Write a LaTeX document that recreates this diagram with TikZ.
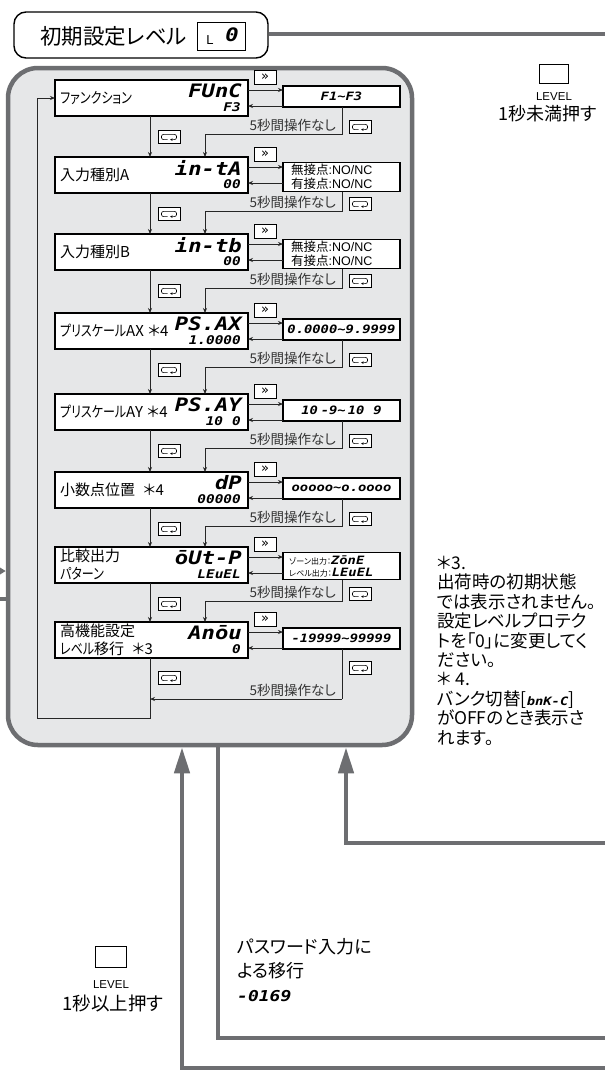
\documentclass[tikz,border=0pt]{standalone}
\usepackage{graphicx}
\usepackage{fontspec}
\setmainfont{Noto Sans CJK JP}[RawFeature=+palt]
\newfontfamily\segfont{DejaVu Sans Mono}[FakeStretch=1.2]
\newfontfamily\latinf{Liberation Sans}
\newfontfamily\dejavuf{DejaVu Sans}
\usetikzlibrary{calc,arrows.meta}
\definecolor{panelgray}{HTML}{E6E7E8}
\definecolor{linegray}{HTML}{6D6E71}
\newcommand\sevenbig{\segfont\bfseries\itshape\fontsize{18.5}{19}\selectfont}
\newcommand\sevensmall{\segfont\bfseries\itshape\fontsize{12}{13}\selectfont}
\newcommand\sevenval{\segfont\bfseries\itshape\fontsize{11.5}{12}\selectfont}
\newcommand\kn[1]{\scalebox{0.8}[1]{#1}}
\newcommand\modekey[3]{%
  \node[keybtn] (#1) at (#2,#3) {};
  \begin{scope}[shift={(#1.center)}]
    \draw[line width=0.6pt, rounded corners=2pt, -{Stealth[length=2.4pt,width=2.6pt]}]
      (-1.5,2.6) -- (-7.5,2.6) -- (-7.5,-2.6) -- (7.5,-2.6) -- (7.5,2.6) -- (1.2,2.6);
  \end{scope}}
\tikzset{
  mainbox/.style={draw=black, fill=white, minimum width=193pt, minimum height=36pt, inner sep=0pt, outer sep=0pt},
  valbox/.style={draw=black, fill=white, line width=1.7pt, minimum width=117pt, inner sep=0pt, outer sep=0pt},
  keybtn/.style={draw=black, fill=white, line width=0.7pt, minimum width=22pt, minimum height=13pt, inner sep=0pt, outer sep=0pt},
  ffbtn/.style={keybtn, minimum height=14pt, font=\dejavuf\fontsize{13}{13}\selectfont},
  conn/.style={line width=0.8pt, draw=black!85},
  arr/.style={-{Stealth[length=5pt,width=4pt]}},
  graythick/.style={line width=4.5pt, draw=linegray},
  lab/.style={font=\fontsize{15}{18}\selectfont, inner sep=0pt, anchor=west, align=left},
  note/.style={font=\fontsize{13.5}{13.5}\selectfont, text=black!80, inner sep=0pt},
  sbig/.style={font=\sevenbig, inner sep=0pt, anchor=east},
  ssmall/.style={font=\sevensmall, inner sep=0pt, anchor=east},
  sval/.style={font=\sevenval, inner sep=0pt},
  jtext/.style={inner sep=0pt, align=left},
  lvlbox/.style={draw=black, fill=white, line width=0.9pt, minimum width=29pt, minimum height=19pt, inner sep=0pt},
}
\begin{document}
\begin{tikzpicture}[x=1pt,y=-1pt]
\useasboundingbox (0,0) rectangle (605,1079);

% ---------- title ----------
\node[draw=black, line width=1.4pt, rounded corners=12pt, fill=white, minimum width=254pt, minimum height=46pt, inner sep=0pt] (T) at (141,35) {};
\node[font=\fontsize{21.5}{24}\selectfont, anchor=west, inner sep=0pt] (Tt) at (40,36) {初期設定レベル};
\node[draw=black, line width=1pt, fill=white, minimum width=48pt, minimum height=28pt, inner sep=0pt] (L0) at (221,36) {};
\node[font=\latinf\fontsize{13}{13}\selectfont, inner sep=0pt] (L0a) at (210,40) {L};
\node[font=\sevenbig, inner sep=0pt] (L0b) at (232,35) {0};
\coordinate (e0) at (605,34);
\draw[graythick] (T.east |- e0) -- (e0);

% ---------- LEVEL (top right) ----------
\node[lvlbox] (LV1) at (554,74) {};
\node[font=\latinf\fontsize{11.5}{12}\selectfont, inner sep=0pt] (LV1t) at (554,97) {LEVEL};
\node[font=\fontsize{18}{18}\selectfont, inner sep=0pt] (LV1s) at (548,114) {1秒未満押す};

% ---------- panel ----------
\node[draw=linegray, line width=4.5pt, fill=panelgray, rounded corners=30pt, minimum width=404pt, minimum height=677pt, inner sep=0pt] (P) at (210,406.5) {};

% left side lines
\coordinate (w1) at (0,571);
\draw[line width=2.2pt, draw=linegray, -{Triangle[length=7pt,width=8pt]}, color=linegray] (w1) -- (w1 -| P.west);
\coordinate (w2) at (0,599);
\draw[graythick] (w2) -- (w2 -| P.west);

% bottom lines
\coordinate (s1) at (182,1068); \coordinate (s1e) at (605,1068);
\draw[graythick, -{Triangle[length=26pt,width=15pt]}, color=linegray] (s1e) -- (s1) -- (s1 |- P.south);
\coordinate (s2) at (218,1038); \coordinate (s2e) at (605,1038);
\draw[graythick] (P.south -| s2) -- (s2) -- (s2e);
\coordinate (s3) at (346,843); \coordinate (s3e) at (605,843);
\draw[graythick, -{Triangle[length=26pt,width=15pt]}, color=linegray] (s3e) -- (s3) -- (s3 |- P.south);

% ---------- rows ----------
\foreach \i/\ty/\rh/\lw/\ry in {1/80/21/2.8/16.5,2/157/29/2.8/20,3/234/29/1.8/20,4/313/21/1.8/16.5,5/394/21/1.8/16.5,6/472/21/1.8/16.5,7/547/27/1.8/19,8/622/21/1.8/16.5}{
  \node[mainbox, line width=\lw pt] (b\i) at (151.5,\ty+18) {};
  \node[valbox, minimum height=\rh pt] (r\i) at (341.5,\ty+\ry) {};
  \node[ffbtn] (f\i) at (265,\ty-3) {»};
  \coordinate (pa\i) at (250,\ty+10);
  \coordinate (pb\i) at (250,\ty+26);
  \draw[conn,arr] (b\i.east |- pa\i) -- (r\i.west |- pa\i);
  \draw[conn,arr] (r\i.west |- pb\i) -- (b\i.east |- pb\i);
}

\foreach \i/\ty in {1/80,2/157,3/234,4/313,5/394,6/472,7/547}{
  \pgfmathtruncatemacro\j{\i+1}
  \coordinate (qa\i) at (342,\ty+54);
  \coordinate (qb\i) at (205,\ty+54);
  \coordinate (ql\i) at (150,\ty+54);
  \draw[conn] (r\i.south -| qa\i) -- (qa\i) -- (qb\i);
  \draw[conn,arr] (qb\i) -- (qb\i |- b\j.north);
  \draw[conn,arr] (b\i.south -| ql\i) -- (b\j.north -| ql\i);
  \node[note, anchor=east] (n\i) at (336,\ty+45) {5秒間操作なし};
  \modekey{mr\i}{360}{\ty+47}
  \modekey{ml\i}{169}{\ty+57}
}

% row 8 bottom and main loop
\coordinate (qa8) at (342,699);
\coordinate (lb) at (150,718);
\coordinate (lc) at (37,718);
\draw[conn] (r8.south -| qa8) -- (qa8);
\draw[conn,arr] (qa8) -- (qa8 -| lb);
\draw[conn,arr] (b8.south -| lb) -- (lb) -- (lc) -- (lc |- b1.west) -- (b1.west);
\node[note, anchor=east] (n8) at (336,690) {5秒間操作なし};
\modekey{mr8}{360}{668}
\modekey{ml8}{169}{678}

% ---------- texts in rows ----------
\node[lab] (l1) at ($(b1.west)+(5,0)$) {\kn{ファンクション}};
\node[sbig] (g1) at ($(b1.north east)+(-6,11)$) {FUnC};
\node[ssmall] (h1) at ($(b1.north east)+(-7,27)$) {F3};
\node[sval] (v1) at (r1) {F1\textasciitilde F3};

\node[lab] (l2) at ($(b2.west)+(5,0)$) {入力種別A};
\node[sbig] (g2) at ($(b2.north east)+(-6,11)$) {in-tA};
\node[ssmall] (h2) at ($(b2.north east)+(-7,27)$) {00};
\node[jtext, anchor=west, font=\fontsize{12.5}{14.5}\selectfont] (v2) at ($(r2.west)+(8,0)$) {無接点{\latinf :NO/NC}\\有接点{\latinf :NO/NC}};

\node[lab] (l3) at ($(b3.west)+(5,0)$) {入力種別B};
\node[sbig] (g3) at ($(b3.north east)+(-6,11)$) {in-tb};
\node[ssmall] (h3) at ($(b3.north east)+(-7,27)$) {00};
\node[jtext, anchor=west, font=\fontsize{12.5}{14.5}\selectfont] (v3) at ($(r3.west)+(8,0)$) {無接点{\latinf :NO/NC}\\有接点{\latinf :NO/NC}};

\node[lab] (l4) at ($(b4.west)+(5,0)$) {\kn{プリスケール}AX\hspace{4pt}＊4};
\node[sbig] (g4) at ($(b4.north east)+(-6,11)$) {PS.AX};
\node[ssmall] (h4) at ($(b4.north east)+(-7,27)$) {1.0000};
\node[sval] (v4) at (r4) {0.0000\textasciitilde 9.9999};

\node[lab] (l5) at ($(b5.west)+(5,0)$) {\kn{プリスケール}AY\hspace{4pt}＊4};
\node[sbig] (g5) at ($(b5.north east)+(-6,11)$) {PS.AY};
\node[ssmall] (h5) at ($(b5.north east)+(-7,27)$) {10\hspace{9pt}0};
\node[sval] (v5) at (r5) {10\hspace{3pt}-9\textasciitilde\hspace{2pt}10\hspace{9pt}9};

\node[lab] (l6) at ($(b6.west)+(5,0)$) {小数点位置\hspace{8pt}＊4};
\node[sbig] (g6) at ($(b6.north east)+(-6,11)$) {dP};
\node[ssmall] (h6) at ($(b6.north east)+(-7,27)$) {00000};
\node[sval] (v6) at (r6) {ooooo\textasciitilde o.oooo};

\node[lab] (l7) at ($(b7.west)+(5,0)$) {比較出力\\\kn{パターン}};
\node[sbig] (g7) at ($(b7.north east)+(-6,11)$) {ōUt-P};
\node[ssmall] (h7) at ($(b7.north east)+(-7,27)$) {LEuEL};
\node[jtext, anchor=west] (v7) at ($(r7.west)+(6,0)$) {{\fontsize{8}{12}\selectfont ゾーン出力：}{\sevenval ZōnE}\\{\fontsize{8}{12}\selectfont レベル出力：}{\sevenval LEuEL}};

\node[lab] (l8) at ($(b8.west)+(5,0)$) {高機能設定\\\kn{レベル}移行\hspace{8pt}＊3};
\node[sbig] (g8) at ($(b8.north east)+(-6,11)$) {Anōu};
\node[ssmall] (h8) at ($(b8.north east)+(-7,27)$) {0};
\node[sval] (v8) at (r8) {-19999\textasciitilde 99999};

% ---------- footnotes ----------
\node[jtext, anchor=north west, font=\fontsize{17.5}{19.4}\selectfont] (fn) at (437,556) {＊3.\\出荷時の初期状態\\では表示されません。\\設定レベルプロテク\\トを「0」に変更してく\\ださい。\\＊ 4.\\バンク切替[{\sevenval bnK-C}]\\がOFFのとき表示さ\\れます。};

% ---------- password ----------
\node[jtext, anchor=north west, font=\fontsize{18}{24}\selectfont] (pw) at (237,938) {パスワード入力に\\よる移行\\{\segfont\bfseries\itshape\fontsize{15}{15}\selectfont -0169}};

% ---------- LEVEL (bottom left) ----------
\node[lvlbox, minimum width=31pt, minimum height=21pt] (LV2) at (111,957) {};
\node[font=\latinf\fontsize{11.5}{12}\selectfont, inner sep=0pt] (LV2t) at (111,985) {LEVEL};
\node[font=\fontsize{18.5}{19}\selectfont, inner sep=0pt] (LV2s) at (113,1003) {1秒以上押す};
\end{tikzpicture}
\end{document}
